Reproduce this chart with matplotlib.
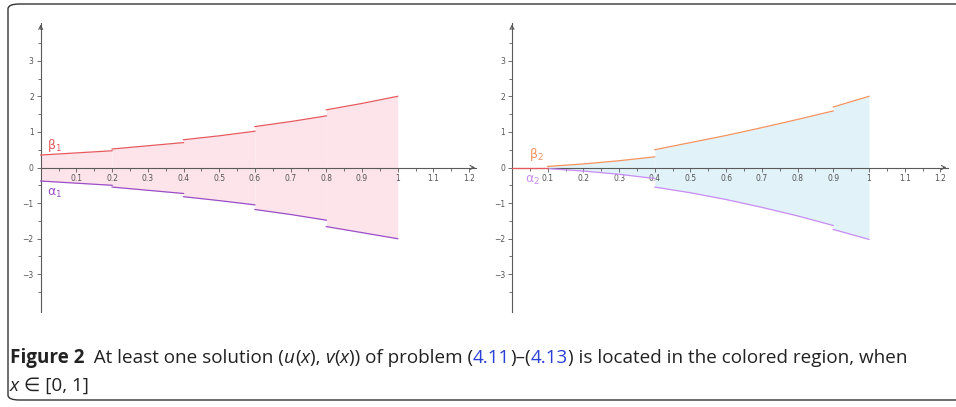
import numpy as np
import matplotlib
matplotlib.use("Agg")
import matplotlib.pyplot as plt
from matplotlib.patches import FancyBboxPatch

plt.rcParams["mathtext.fontset"] = "dejavusans"
plt.rcParams["mathtext.default"] = "regular"

# ---------------------------------------------------------
# Data (piecewise bounds, points per piece)
# ---------------------------------------------------------
x1_pieces = [(0.0, 0.1, 0.2), (0.2, 0.3, 0.4), (0.4, 0.5, 0.6),
             (0.6, 0.7, 0.8), (0.8, 0.9, 1.0)]
beta1 = [(0.35, 0.41, 0.47), (0.52, 0.61, 0.70), (0.78, 0.89, 1.02),
         (1.15, 1.29, 1.45), (1.62, 1.80, 2.00)]
alpha1 = [(-0.38, -0.44, -0.50), (-0.55, -0.64, -0.73), (-0.82, -0.93, -1.05),
          (-1.18, -1.32, -1.48), (-1.66, -1.83, -2.00)]

x2_pieces = [(0.1, 0.2, 0.3, 0.4),
             (0.4, 0.5, 0.6, 0.7, 0.8, 0.9),
             (0.9, 0.95, 1.0)]
beta2 = [(0.03, 0.10, 0.19, 0.30),
         (0.50, 0.70, 0.90, 1.12, 1.35, 1.59),
         (1.70, 1.85, 2.00)]
alpha2 = [(-0.03, -0.10, -0.19, -0.31),
          (-0.55, -0.71, -0.90, -1.12, -1.36, -1.63),
          (-1.74, -1.88, -2.02)]
beta2_zero_x = [0.0, 0.1]
beta2_zero_y = [0.0, 0.0]

xticks = [0.1, 0.2, 0.3, 0.4, 0.5, 0.6, 0.7, 0.8, 0.9, 1.0, 1.1, 1.2]
xticklabels = ["0.1", "0.2", "0.3", "0.4", "0.5", "0.6", "0.7", "0.8",
               "0.9", "1", "1.1", "1.2"]
yticks = [-3, -2, -1, 0, 1, 2, 3]
yticklabels = ["\u22123", "\u22122", "\u22121", "0", "1", "2", "3"]

W, H = 956, 407
fig = plt.figure(figsize=(W / 100, H / 100), dpi=100)

axis_col = "#5a5a5a"
tick_col = "#555555"


def setup_axes(ax, xlim):
    ax.set_xlim(*xlim)
    ax.set_ylim(-4.2, 4.2)
    for s in ["top", "right"]:
        ax.spines[s].set_visible(False)
    ax.spines["left"].set_position("zero")
    ax.spines["bottom"].set_position("zero")
    ax.spines["left"].set_bounds(-4.06, 4.06)
    ax.spines["bottom"].set_bounds(0, 1.22)
    for s in ["left", "bottom"]:
        ax.spines[s].set_color(axis_col)
        ax.spines[s].set_linewidth(0.8)
    ax.set_xticks(xticks)
    ax.set_xticklabels(xticklabels)
    ax.set_yticks(yticks)
    ax.set_yticklabels(yticklabels)
    ax.set_xticks(np.arange(0.05, 1.21, 0.1), minor=True)
    ax.set_yticks(np.arange(-3.5, 3.6, 1.0), minor=True)
    ax.tick_params(axis="both", which="major", length=3, width=0.6,
                   color=axis_col, labelsize=5.5, labelcolor=tick_col, pad=2)
    ax.tick_params(axis="both", which="minor", length=2, width=0.6,
                   color=axis_col)
    # arrow heads
    ax.annotate("", xy=(1.225, 0), xytext=(1.20, 0),
                arrowprops=dict(arrowstyle="->", color=axis_col, lw=0.8,
                                mutation_scale=7))
    ax.annotate("", xy=(0, 4.1), xytext=(0, 3.8),
                arrowprops=dict(arrowstyle="->", color=axis_col, lw=0.8,
                                mutation_scale=7))
    ax.patch.set_alpha(0)


# ---------------------------------------------------------
# Left panel
# ---------------------------------------------------------
ax1 = fig.add_axes([22.85 / W, 90 / H, 464.1 / W, 299 / H])
setup_axes(ax1, (-0.05, 1.25))
for xs, b, a in zip(x1_pieces, beta1, alpha1):
    ax1.fill_between(xs, a, b, color="#fce4ea", lw=0, zorder=1)
    ax1.plot(xs, b, color="#e65a5f", lw=0.9, zorder=3)
    ax1.plot(xs, a, color="#9b4ec8", lw=0.9, zorder=3)
ax1.text(0.018, 0.62, r"$\beta_1$", color="#e65a5f", fontsize=9,
         va="center", ha="left")
ax1.text(0.018, -0.74, r"$\alpha_1$", color="#9b4ec8", fontsize=9,
         va="center", ha="left")

# ---------------------------------------------------------
# Right panel
# ---------------------------------------------------------
ax2 = fig.add_axes([494.15 / W, 90 / H, 460.5 / W, 299 / H])
setup_axes(ax2, (-0.05, 1.24))
for xs, b, a in zip(x2_pieces, beta2, alpha2):
    ax2.fill_between(xs, a, b, color="#e1f2f9", lw=0, zorder=1)
    ax2.plot(xs, b, color="#f3935f", lw=0.9, zorder=3)
    ax2.plot(xs, a, color="#c98cf5", lw=0.9, zorder=3)
ax2.plot(beta2_zero_x, beta2_zero_y, color="#e65a5f", lw=0.9, zorder=3)
ax2.text(0.048, 0.36, r"$\beta_2$", color="#f3935f", fontsize=9,
         va="center", ha="left")
ax2.text(0.036, -0.36, r"$\alpha_2$", color="#c98cf5", fontsize=9,
         va="center", ha="left")

# ---------------------------------------------------------
# Frame
# ---------------------------------------------------------
frame = FancyBboxPatch((8 / W, 7 / H), 1.2, 396 / H,
                       boxstyle="round,pad=0,rounding_size=0.012",
                       transform=fig.transFigure, fill=False,
                       ec="#333333", lw=1.0, clip_on=False)
fig.patches.append(frame)

# ---------------------------------------------------------
# Caption (pieces placed one after another)
# ---------------------------------------------------------
cap_font = ["Open Sans", "DejaVu Sans"]
cap_size = 13.6
renderer = fig.canvas.get_renderer()


def write_line(pieces, x_px, y_px):
    x = x_px
    for txt, style in pieces:
        kw = dict(fontsize=cap_size, family=cap_font, color="#222222",
                  va="baseline", ha="left")
        if style == "b":
            kw["fontweight"] = "bold"
        elif style == "i":
            kw["fontstyle"] = "italic"
        elif style == "link":
            kw["color"] = "#2a3fd6"
        t = fig.text(x / W, 1 - y_px / H, txt, transform=fig.transFigure, **kw)
        bb = t.get_window_extent(renderer=renderer)
        x += bb.width


line1 = [("Figure 2", "b"), ("  At least one solution (", "n"), ("u", "i"),
         ("(", "n"), ("x", "i"), ("), ", "n"), ("v", "i"), ("(", "n"),
         ("x", "i"), (")) of problem (", "n"), ("4.11", "link"), (")\u2013(", "n"),
         ("4.13", "link"), (") is located in the colored region, when", "n")]
line2 = [("x", "i"), (" \u2208 [0, 1]", "n")]
write_line(line1, 10, 363)
write_line(line2, 10, 391)

fig.savefig("out.png", dpi=100)
